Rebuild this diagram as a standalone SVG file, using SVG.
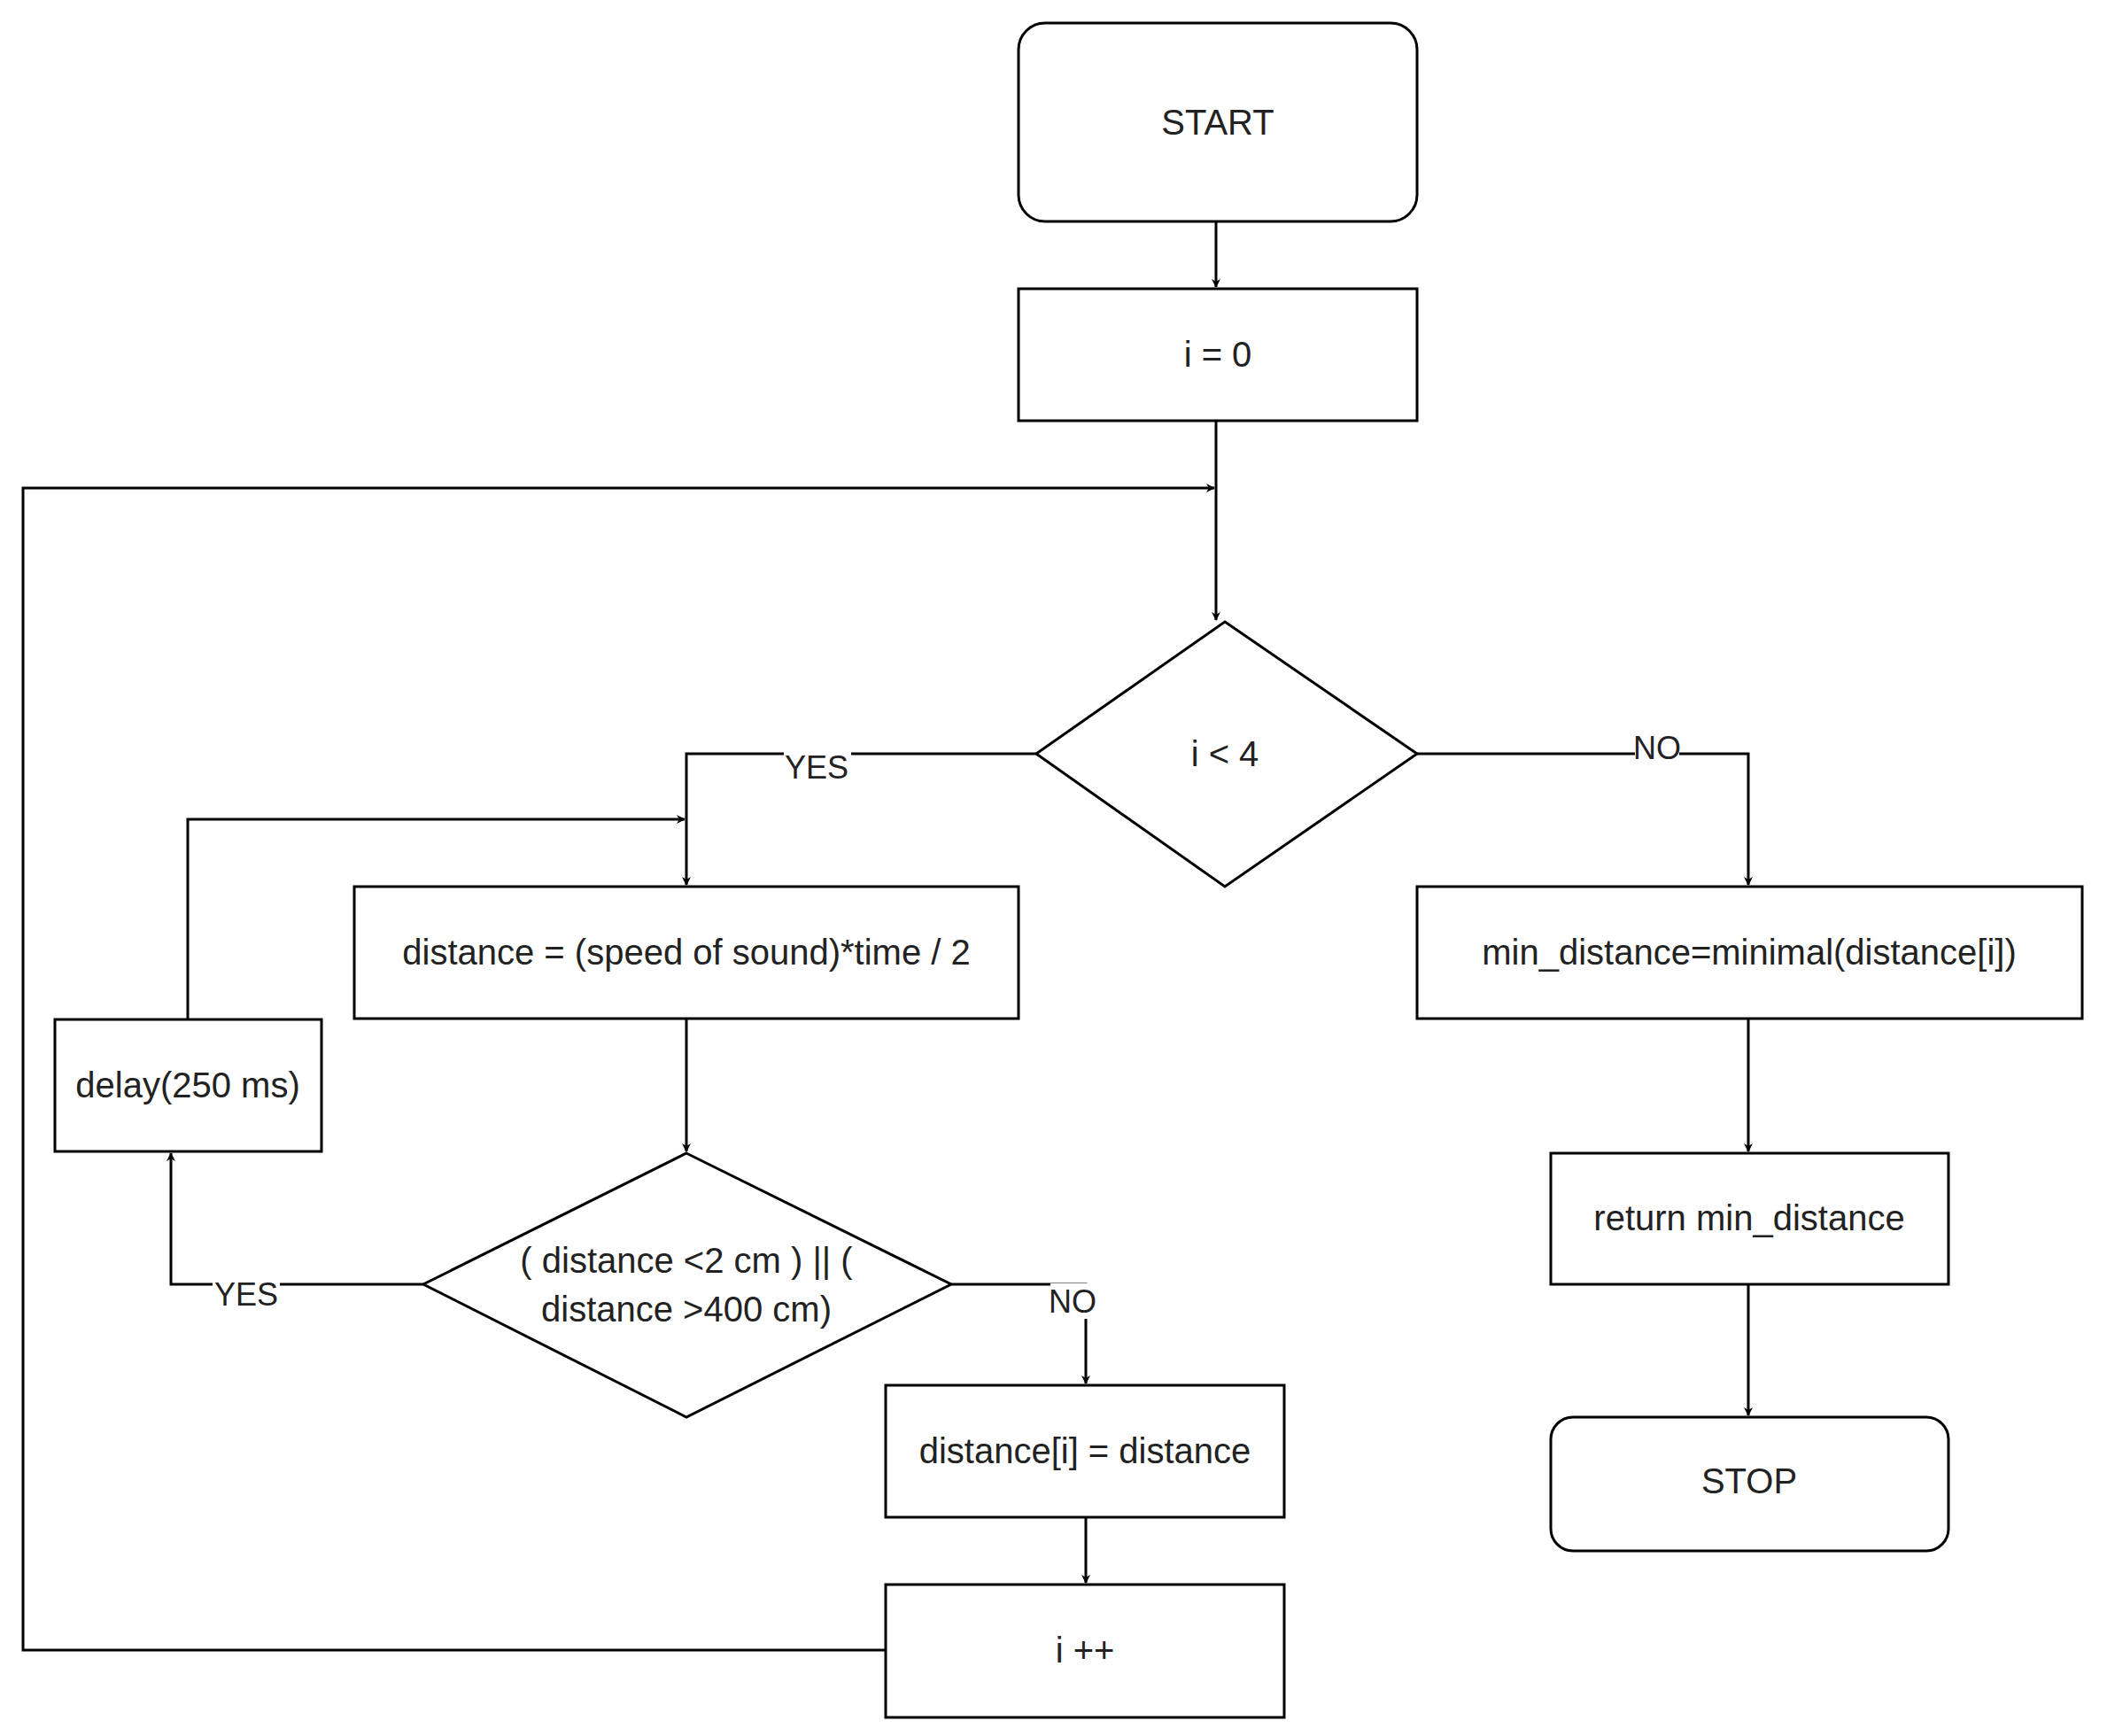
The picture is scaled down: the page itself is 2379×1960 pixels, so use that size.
<svg xmlns="http://www.w3.org/2000/svg" width="2379" height="1960" viewBox="0 0 2379 1960">
<defs>
<marker id="ah" markerWidth="10" markerHeight="10" refX="9" refY="5" orient="auto" markerUnits="userSpaceOnUse" viewBox="0 0 10 10"><path d="M0,0 L10,5 L0,10 L3,5 Z" fill="#000"/></marker>
<style>
.n{fill:#fff;stroke:#000;stroke-width:3}
.t{font-family:"Liberation Sans",Arial,sans-serif;font-size:40px;fill:#222;text-anchor:middle;dominant-baseline:central}
.l{font-family:"Liberation Sans",Arial,sans-serif;font-size:36px;fill:#222;text-anchor:middle;dominant-baseline:central}
.c{fill:none;stroke:#000;stroke-width:3;marker-end:url(#ah)}
</style>
</defs>
<rect width="2379" height="1960" fill="#fff"/>
<g id="connectors">
<path class="c" d="M1373,250 V324"/>
<path class="c" d="M1373,475 V700"/>
<path class="c" d="M1000,1863 H26 V551 H1371"/>
<path class="c" d="M1170,851 H775 V999"/>
<path class="c" d="M212,1151 V925 H773"/>
<path class="c" d="M775,1150 V1300"/>
<path class="c" d="M478,1450 H193 V1302"/>
<path class="c" d="M1074,1450 H1226 V1562"/>
<path class="c" d="M1226,1713 V1787"/>
<path class="c" d="M1600,851 H1974 V999"/>
<path class="c" d="M1974,1150 V1300"/>
<path class="c" d="M1974,1450 V1598"/>
<rect x="885" y="846" width="76" height="40" fill="#fff"/><text class="l" x="922" y="866">YES</text>
<rect x="240" y="1441" width="76" height="40" fill="#fff"/><text class="l" x="278" y="1461">YES</text>
<rect x="1186" y="1449" width="50" height="40" fill="#fff"/><text class="l" x="1211" y="1469">NO</text>
<rect x="1846" y="824" width="50" height="40" fill="#fff"/><text class="l" x="1871" y="844">NO</text>
</g>
<g id="start"><rect class="n" x="1150" y="26" width="450" height="224" rx="30"/><text class="t" x="1375" y="138">START</text></g>
<g id="init"><rect class="n" x="1150" y="326" width="450" height="149"/><text class="t" x="1375" y="400">i = 0</text></g>
<g id="cond"><polygon class="n" points="1383,702 1600,851 1383,1001 1170,851"/><text class="t" x="1383" y="851">i &lt; 4</text></g>
<g id="calc"><rect class="n" x="400" y="1001" width="750" height="149"/><text class="t" x="775" y="1075">distance = (speed of sound)*time / 2</text></g>
<g id="min"><rect class="n" x="1600" y="1001" width="751" height="149"/><text class="t" x="1975" y="1075">min_distance=minimal(distance[i])</text></g>
<g id="delay"><rect class="n" x="62" y="1151" width="301" height="149"/><text class="t" x="212" y="1225">delay(250 ms)</text></g>
<g id="range"><polygon class="n" points="775,1302 1074,1450 775,1600 478,1450"/><text class="t" x="775" y="1423">( distance &lt;2 cm ) || (</text><text class="t" x="775" y="1478">distance &gt;400 cm)</text></g>
<g id="store"><rect class="n" x="1000" y="1564" width="450" height="149"/><text class="t" x="1225" y="1638">distance[i] = distance</text></g>
<g id="inc"><rect class="n" x="1000" y="1789" width="450" height="150"/><text class="t" x="1225" y="1863">i ++</text></g>
<g id="ret"><rect class="n" x="1751" y="1302" width="449" height="148"/><text class="t" x="1975" y="1375">return min_distance</text></g>
<g id="stop"><rect class="n" x="1751" y="1600" width="449" height="151" rx="25"/><text class="t" x="1975" y="1672">STOP</text></g>
</svg>
